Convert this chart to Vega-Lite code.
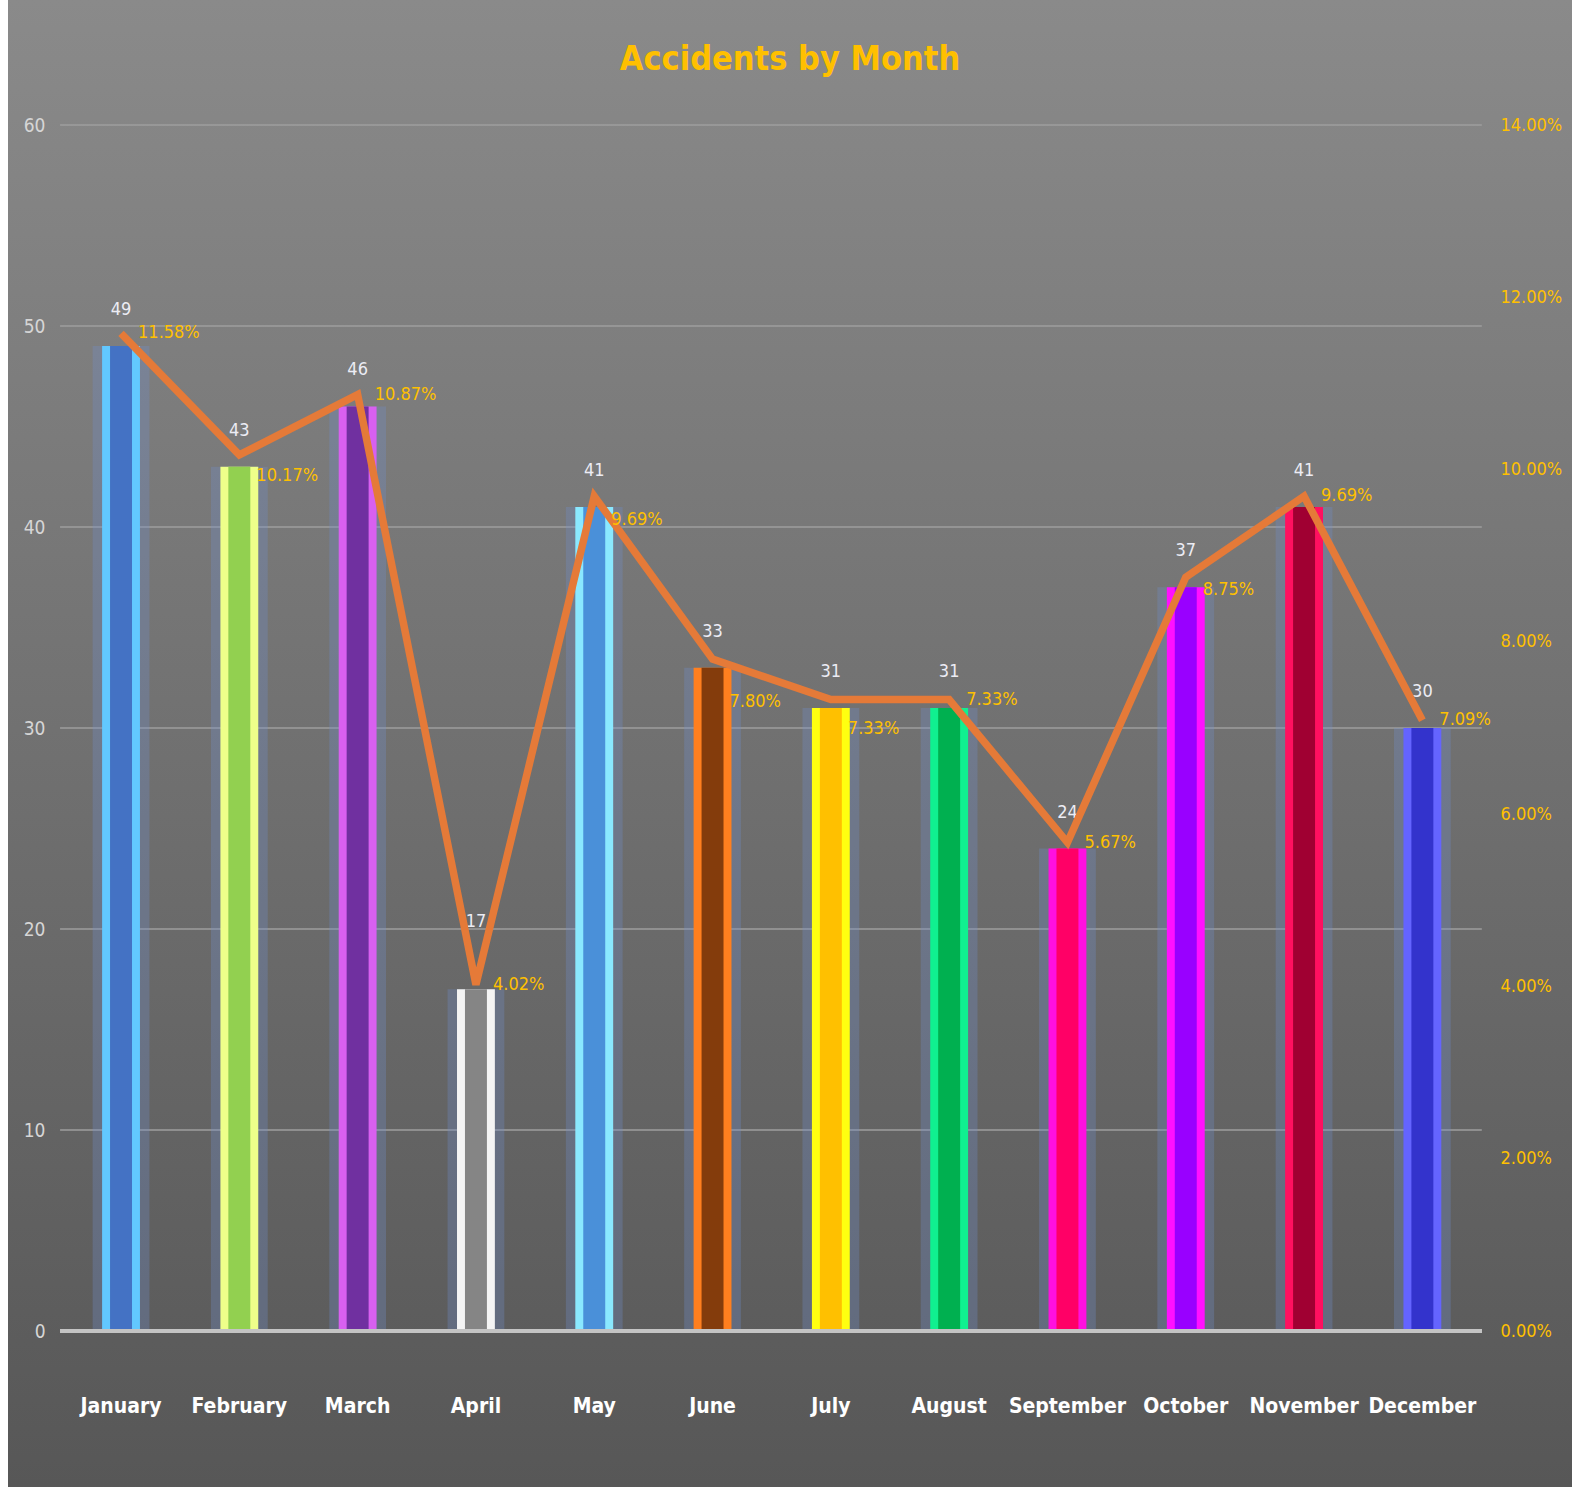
{
  "$schema": "https://vega.github.io/schema/vega-lite/v6.json",
  "width": 1564,
  "height": 1487,
  "autosize": {"type": "none"},
  "padding": {"left": 8, "top": 0, "right": 11, "bottom": 3},
  "background": "#ffffff",
  "title": {
    "text": "Accidents by Month",
    "color": "#FFC000",
    "font": "DejaVu Sans Condensed, Liberation Sans",
    "fontSize": 34,
    "fontWeight": "bold",
    "anchor": "middle",
    "baseline": "bottom",
    "offset": -111
  },
  "config": {
    "view": {
      "stroke": null,
      "fill": {
        "gradient": "linear",
        "x1": 0, "y1": 0, "x2": 0, "y2": 1,
        "stops": [
          {"offset": 0, "color": "#8a8a8a"},
          {"offset": 1, "color": "#575757"}
        ]
      }
    }
  },
  "datasets": {
    "months": [
      {"month": "January", "count": 49, "pct": 0.1158},
      {"month": "February", "count": 43, "pct": 0.1017},
      {"month": "March", "count": 46, "pct": 0.1087},
      {"month": "April", "count": 17, "pct": 0.0402},
      {"month": "May", "count": 41, "pct": 0.0969},
      {"month": "June", "count": 33, "pct": 0.0780},
      {"month": "July", "count": 31, "pct": 0.0733},
      {"month": "August", "count": 31, "pct": 0.0733},
      {"month": "September", "count": 24, "pct": 0.0567},
      {"month": "October", "count": 37, "pct": 0.0875},
      {"month": "November", "count": 41, "pct": 0.0969},
      {"month": "December", "count": 30, "pct": 0.0709}
    ],
    "grid": [{"v": 10}, {"v": 20}, {"v": 30}, {"v": 40}, {"v": 50}, {"v": 60}]
  },
  "layer": [
    {
      "resolve": {"scale": {"color": "independent"}},
      "layer": [
        {
          "data": {"name": "grid"},
          "mark": {"type": "rule", "color": "#9e9e9e", "strokeWidth": 1.5},
          "encoding": {
            "x": {"datum": "January", "type": "nominal", "bandPosition": -1.11, "title": null,
                  "scale": {"domain": ["January","February","March","April","May","June","July","August","September","October","November","December"], "range": [94.1, 1433.3], "paddingInner": 0.68, "paddingOuter": 0}},
            "x2": {"datum": "December", "bandPosition": 2.07},
            "y": {"field": "v", "type": "quantitative", "title": null,
                  "scale": {"domain": [0, 60], "range": [1331, 125], "nice": false}}
          }
        },
        {
          "data": {"name": "months"},
          "mark": {"type": "bar", "color": "#7090cc", "opacity": 0.3, "width": {"band": 1.5}},
          "encoding": {
            "x": {"field": "month", "type": "nominal", "title": null},
            "y": {"field": "count", "type": "quantitative", "title": null}
          }
        },
        {
          "data": {"name": "months"},
          "mark": {"type": "bar", "width": {"band": 1}},
          "encoding": {
            "x": {
              "field": "month", "type": "nominal", "sort": null, "title": null,
              "axis": {
                "orient": "bottom", "offset": -92, "labelPadding": 0, "labelBaseline": "top",
                "labelAlign": "center", "labelAngle": 0, "labelColor": "#ffffff",
                "labelFont": "DejaVu Sans Condensed, Liberation Sans",
                "labelFontSize": 21, "labelFontWeight": "bold", "domain": false, "ticks": false,
                "tickSize": 0, "grid": false
              }
            },
            "y": {
              "field": "count", "type": "quantitative", "title": null,
              "axis": {
                "orient": "left", "offset": -37, "labelPadding": 0, "tickSize": 0, "ticks": false,
                "domain": false, "grid": false, "values": [0, 10, 20, 30, 40, 50, 60],
                "labelColor": "#d6d6d6", "labelFont": "DejaVu Sans Condensed, Liberation Sans", "labelFontSize": 19
              }
            },
            "color": {
              "field": "month", "type": "nominal", "legend": null,
              "scale": {
                "domain": ["January","February","March","April","May","June","July","August","September","October","November","December"],
                "range": ["#62c8ff", "#eeff8a", "#d860f0", "#f4f4f4", "#8ae8ff", "#ff7f1f", "#ffff10", "#10f090", "#ff10e0", "#ff10ff", "#ff1060", "#6464ff"]
              }
            }
          }
        },
        {
          "data": {"name": "months"},
          "mark": {"type": "bar", "width": {"band": 0.58}},
          "encoding": {
            "x": {"field": "month", "type": "nominal", "title": null},
            "y": {"field": "count", "type": "quantitative", "title": null},
            "color": {
              "field": "month", "type": "nominal", "legend": null,
              "scale": {
                "domain": ["January","February","March","April","May","June","July","August","September","October","November","December"],
                "range": ["#4472c4", "#92d050", "#7030a0", "#858585", "#4a90d9", "#843c0c", "#ffc000", "#00b050", "#ff0066", "#9900ff", "#a00032", "#3333cc"]
              }
            }
          }
        },
        {
          "data": {"name": "months"},
          "mark": {"type": "rule", "color": "#c4c4c4", "strokeWidth": 4},
          "encoding": {
            "x": {"datum": "January", "type": "nominal", "bandPosition": -1.11, "title": null},
            "x2": {"datum": "December", "bandPosition": 2.07},
            "y": {"datum": 0, "type": "quantitative", "title": null}
          }
        },
        {
          "data": {"name": "months"},
          "mark": {
            "type": "text", "color": "#ececf4", "font": "DejaVu Sans Condensed, Liberation Sans", "fontSize": 18,
            "baseline": "middle", "align": "center",
            "dy": {"expr": "datum.month === 'April' ? -67 : -36"}
          },
          "encoding": {
            "x": {"field": "month", "type": "nominal", "title": null},
            "y": {"field": "count", "type": "quantitative", "title": null},
            "text": {"field": "count", "type": "quantitative"}
          }
        }
      ]
    },
    {
      "data": {"name": "months"},
      "layer": [
        {
          "mark": {"type": "line", "color": "#E57A38", "strokeWidth": 7.5, "strokeJoin": "miter"},
          "encoding": {
            "x": {"field": "month", "type": "nominal", "title": null},
            "y": {
              "field": "pct", "type": "quantitative", "title": null,
              "scale": {"domain": [0, 0.14], "range": [1331, 125], "nice": false},
              "axis": {
                "orient": "right", "offset": -72, "labelPadding": 0, "tickSize": 0, "ticks": false,
                "domain": false, "grid": false, "format": ".2%",
                "values": [0, 0.02, 0.04, 0.06, 0.08, 0.10, 0.12, 0.14],
                "labelAlign": "left", "labelColor": "#FFC000", "labelFont": "DejaVu Sans Condensed, Liberation Sans", "labelFontSize": 18
              }
            }
          }
        },
        {
          "mark": {
            "type": "text", "color": "#FFC000", "font": "DejaVu Sans Condensed, Liberation Sans", "fontSize": 18,
            "align": "left", "baseline": "middle", "dx": 17,
            "dy": {"expr": "datum.month === 'February' ? 21 : datum.month === 'May' ? 24 : datum.month === 'June' ? 43 : datum.month === 'July' ? 29 : datum.month === 'October' ? 13 : 0"}
          },
          "encoding": {
            "x": {"field": "month", "type": "nominal", "title": null},
            "y": {"field": "pct", "type": "quantitative", "title": null},
            "text": {"field": "pct", "type": "quantitative", "format": ".2%"}
          }
        }
      ]
    }
  ],
  "resolve": {"scale": {"y": "independent"}}
}
